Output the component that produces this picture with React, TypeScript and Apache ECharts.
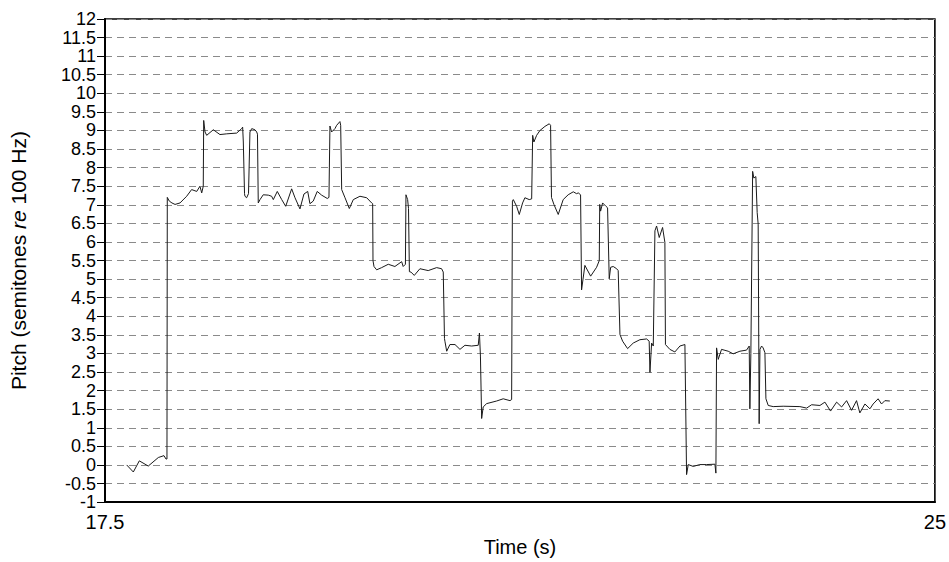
import React, { useEffect, useRef } from "react";
import * as echarts from "echarts";

// Time (s) and pitch (semitones re 100 Hz)
const times: number[] = [
  17.696, 17.756, 17.81, 17.891, 17.982, 18.033, 18.051, 18.06,
  18.063, 18.081, 18.105, 18.133, 18.178, 18.238, 18.283, 18.329, 18.358, 18.374, 18.388,
  18.392, 18.404, 18.419, 18.479, 18.539, 18.6, 18.69, 18.735, 18.744, 18.75,
  18.761, 18.765, 18.78, 18.797,
  18.81, 18.826, 18.855, 18.871, 18.878,
  18.885, 18.901, 18.93, 18.976, 19.006, 19.021, 19.057, 19.097, 19.133, 19.187, 19.217,
  19.262, 19.298, 19.332, 19.352, 19.382, 19.418, 19.458, 19.509, 19.524,
  19.533, 19.548, 19.578, 19.594, 19.623, 19.63,
  19.639, 19.669, 19.708, 19.744, 19.804, 19.865, 19.91, 19.919,
  19.922, 19.931, 19.955, 20.0, 20.06, 20.12, 20.181, 20.195, 20.215,
  20.22, 20.235, 20.243,
  20.251, 20.265, 20.295, 20.346, 20.421, 20.497, 20.542, 20.557,
  20.568, 20.572, 20.588, 20.617, 20.663, 20.708, 20.753, 20.813, 20.873, 20.884, 20.893,
  20.904, 20.918, 20.949, 21.039, 21.099, 21.16, 21.175,
  21.182, 21.19, 21.22, 21.244, 21.274, 21.295, 21.334, 21.356,
  21.365, 21.376, 21.401, 21.431, 21.476, 21.515, 21.527,
  21.535, 21.557, 21.596, 21.641, 21.686, 21.732, 21.762, 21.777, 21.798,
  21.807, 21.837, 21.889, 21.943, 21.967,
  21.971, 21.979, 21.997, 22.027, 22.042,
  22.057, 22.07, 22.093, 22.124, 22.138,
  22.154, 22.178, 22.223, 22.274, 22.334, 22.395, 22.418, 22.425, 22.44, 22.455,
  22.47, 22.485, 22.509, 22.539, 22.56,
  22.565, 22.605, 22.65, 22.696, 22.741,
  22.756, 22.771, 22.816, 22.876, 22.937, 23.012, 23.021,
  23.027, 23.042, 23.072, 23.132, 23.177, 23.238, 23.298, 23.322, 23.328, 23.337,
  23.353, 23.364, 23.382, 23.394, 23.403, 23.412,
  23.419, 23.434, 23.448, 23.464,
  23.473, 23.494, 23.539, 23.629, 23.78, 23.841, 23.886, 23.961, 24.006, 24.057, 24.112,
  24.157, 24.202, 24.247, 24.292, 24.322, 24.368, 24.413, 24.442, 24.487, 24.518, 24.548, 24.593,
];

const pitch: number[] = [
  0.0, -0.19, 0.11, -0.03, 0.2, 0.25, 0.16, 0.16,
  7.2, 7.1, 7.05, 7.01, 7.05, 7.23, 7.41, 7.36, 7.5, 7.32, 7.5,
  9.27, 8.96, 8.87, 9.02, 8.89, 8.91, 8.93, 9.05, 9.09, 8.69,
  7.3, 7.23, 7.19, 7.3,
  8.96, 9.05, 9.02, 8.96, 8.9,
  7.05, 7.14, 7.27, 7.26, 7.23, 7.14, 7.36, 7.14, 6.96, 7.43, 7.19,
  6.89, 7.29, 7.36, 7.03, 7.1, 7.36, 7.26, 7.17, 7.2,
  9.12, 8.96, 9.05, 9.14, 9.24, 9.14,
  7.41, 7.19, 6.9, 7.14, 7.23, 7.19, 7.05, 7.03,
  5.5, 5.34, 5.25, 5.31, 5.4, 5.34, 5.47, 5.34, 5.4,
  7.27, 7.14, 6.9,
  5.2, 5.19, 5.1, 5.28, 5.23, 5.31, 5.28, 5.19,
  3.4, 3.33, 3.06, 3.24, 3.24, 3.11, 3.22, 3.2, 3.22, 3.55, 2.93,
  1.25, 1.56, 1.65, 1.72, 1.78, 1.73, 1.76,
  7.1, 7.14, 6.96, 6.74, 7.05, 7.19, 7.14, 7.16,
  8.87, 8.69, 8.87, 9.0, 9.11, 9.18, 9.14,
  7.2, 7.01, 6.74, 7.14, 7.27, 7.35, 7.3, 7.32, 7.27,
  4.71, 5.37, 5.08, 5.32, 5.5,
  7.01, 6.83, 7.05, 6.96, 6.92,
  5.01, 5.32, 5.34, 5.28, 5.23,
  3.51, 3.33, 3.13, 3.28, 3.37, 3.39, 3.33, 2.49, 3.28, 3.2,
  6.3, 6.43, 6.12, 6.39, 5.99,
  3.24, 3.11, 3.04, 3.2, 3.24,
  -0.26, 0.01, -0.04, 0.01, 0.01, 0.02, -0.22,
  3.15, 2.84, 3.11, 3.06, 2.99, 3.06, 3.09, 3.2, 1.51, 3.0,
  7.9, 7.72, 7.76, 6.79, 6.48, 1.11,
  3.11, 3.2, 3.15, 3.02,
  1.78, 1.6, 1.57, 1.58, 1.57, 1.53, 1.62, 1.6, 1.69, 1.45, 1.69,
  1.56, 1.73, 1.47, 1.73, 1.4, 1.64, 1.51, 1.64, 1.78, 1.64, 1.73, 1.72,
];

const xMin = 17.5;
const xMax = 25;
const yMin = -1;
const yMax = 12;
const xTickLabels: number[] = [17.5, 25];

const FONT = "'Liberation Sans', Arial, sans-serif";

export default function App() {
  const ref = useRef<HTMLDivElement>(null);
  useEffect(() => {
    if (!ref.current) return;
    const chart = echarts.init(ref.current, undefined, { renderer: "svg" });
    const data = times.map((t, i) => [t, pitch[i]]);
    chart.setOption({
      animation: false,
      backgroundColor: "#ffffff",
      textStyle: { fontFamily: FONT },
      grid: {
        left: 105,
        right: 14,
        top: 19,
        bottom: 54,
        show: true,
        borderColor: "#000",
        borderWidth: 1.6,
        backgroundColor: "transparent",
      },
      xAxis: {
        type: "value",
        min: xMin,
        max: xMax,
        interval: 2.5,
        name: "Time (s)",
        nameLocation: "middle",
        nameGap: 31,
        nameTextStyle: { fontSize: 20, color: "#000", fontFamily: FONT },
        axisLine: { show: true, onZero: false, lineStyle: { color: "#000", width: 2 } },
        axisTick: { show: false },
        splitLine: { show: false },
        axisLabel: {
          fontSize: 20,
          lineHeight: 18,
          color: "#000",
          fontFamily: FONT,
          margin: 11,
          showMinLabel: true,
          showMaxLabel: true,
          formatter: (v: number) =>
            xTickLabels.some((l) => Math.abs(l - v) < 1e-6) ? String(v) : "",
        },
      },
      yAxis: {
        type: "value",
        min: yMin,
        max: yMax,
        interval: 0.5,
        name: "{a|Pitch (semitones }{b|re}{a| 100 Hz)}",
        nameLocation: "middle",
        nameRotate: 90,
        nameGap: 76,
        nameTextStyle: {
          rich: {
            a: { fontSize: 21, color: "#000", fontFamily: FONT },
            b: { fontSize: 21, color: "#000", fontFamily: FONT, fontStyle: "italic" },
          },
        },
        axisLine: { show: true, onZero: false, lineStyle: { color: "#000", width: 2 } },
        axisTick: { show: true, length: 8, lineStyle: { color: "#000", width: 1 } },
        axisLabel: {
          fontSize: 18,
          lineHeight: 18,
          color: "#000",
          fontFamily: FONT,
          margin: 9,
          showMinLabel: true,
          showMaxLabel: true,
          hideOverlap: false,
          formatter: (v: number) => String(v),
        },
        splitLine: {
          show: true,
          lineStyle: { color: "#8a8a8a", width: 1, type: [7, 5] },
        },
      },
      series: [
        {
          type: "line",
          data,
          showSymbol: false,
          symbol: "none",
          smooth: false,
          lineStyle: { color: "#1a1a1a", width: 1 },
          z: 5,
        },
      ],
    });
    return () => chart.dispose();
  }, []);
  return (
    <div
      ref={ref}
      style={{ position: "fixed", left: 0, top: 0, width: 949, height: 562, background: "#fff" }}
    />
  );
}
